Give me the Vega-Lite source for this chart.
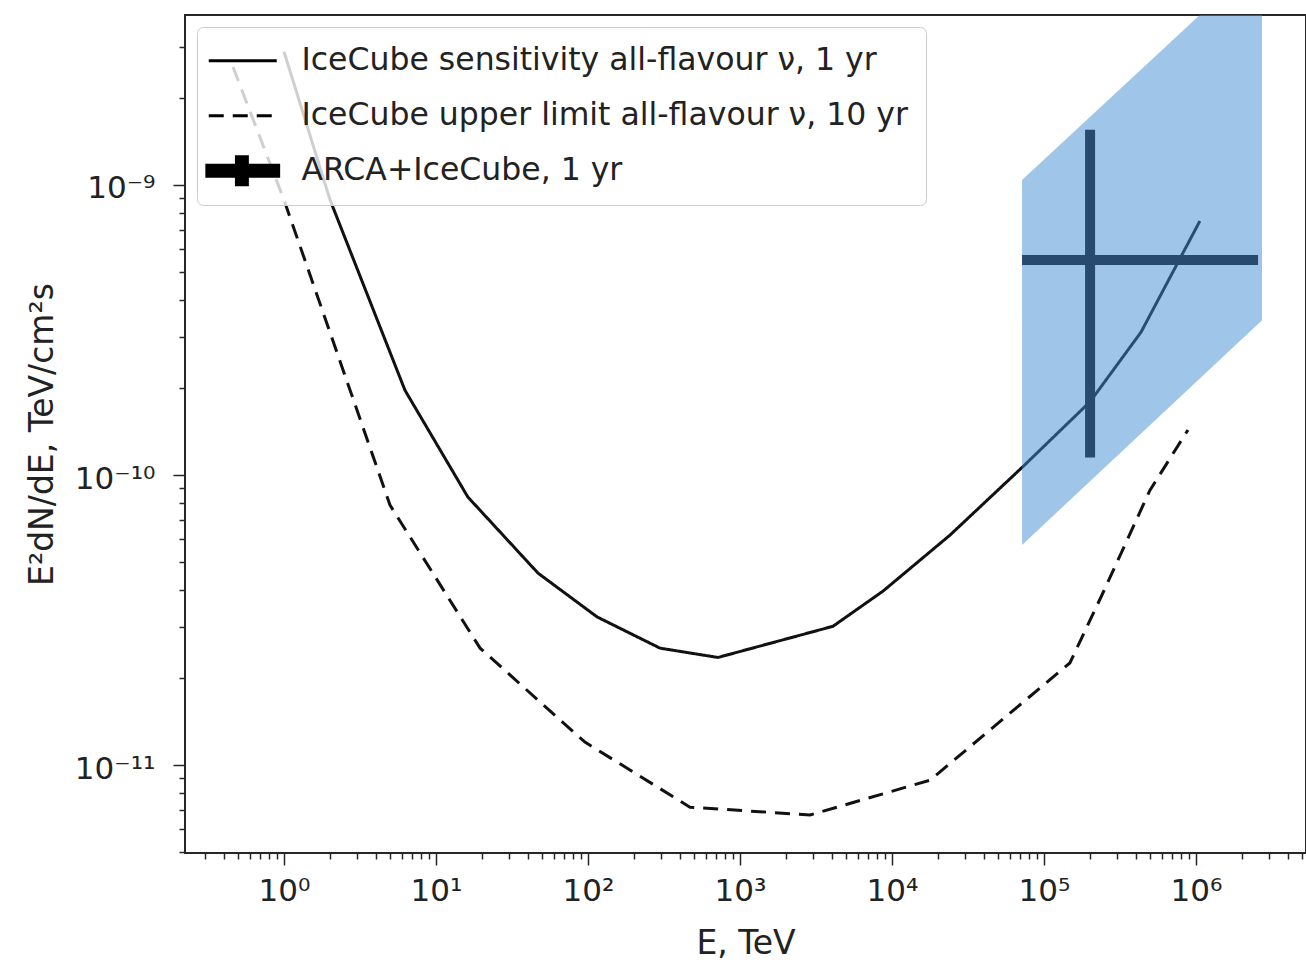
{
  "$schema": "https://vega.github.io/schema/vega-lite/v6.json",
  "autosize": {"type": "none"},
  "padding": {"left": 185, "top": 15, "right": 0, "bottom": 107},
  "width": 1121,
  "height": 838,
  "background": "white",
  "config": {
    "view": {"stroke": "#262626", "strokeWidth": 2},
    "font": "DejaVu Sans"
  },
  "datasets": {
    "curves": [
      {"series": "IceCube sensitivity all-flavour ν, 1 yr", "E": 1.0, "flux": 2.88e-9},
      {"series": "IceCube sensitivity all-flavour ν, 1 yr", "E": 2.01, "flux": 8.88e-10},
      {"series": "IceCube sensitivity all-flavour ν, 1 yr", "E": 6.25, "flux": 1.96e-10},
      {"series": "IceCube sensitivity all-flavour ν, 1 yr", "E": 16.2, "flux": 8.4e-11},
      {"series": "IceCube sensitivity all-flavour ν, 1 yr", "E": 46.9, "flux": 4.59e-11},
      {"series": "IceCube sensitivity all-flavour ν, 1 yr", "E": 115, "flux": 3.24e-11},
      {"series": "IceCube sensitivity all-flavour ν, 1 yr", "E": 298, "flux": 2.53e-11},
      {"series": "IceCube sensitivity all-flavour ν, 1 yr", "E": 716, "flux": 2.35e-11},
      {"series": "IceCube sensitivity all-flavour ν, 1 yr", "E": 4090, "flux": 3.01e-11},
      {"series": "IceCube sensitivity all-flavour ν, 1 yr", "E": 8730, "flux": 3.98e-11},
      {"series": "IceCube sensitivity all-flavour ν, 1 yr", "E": 24100, "flux": 6.21e-11},
      {"series": "IceCube sensitivity all-flavour ν, 1 yr", "E": 72800, "flux": 1.07e-10},
      {"series": "IceCube sensitivity all-flavour ν, 1 yr", "E": 201000, "flux": 1.79e-10},
      {"series": "IceCube sensitivity all-flavour ν, 1 yr", "E": 435000, "flux": 3.11e-10},
      {"series": "IceCube sensitivity all-flavour ν, 1 yr", "E": 1060000, "flux": 7.51e-10},
      {"series": "IceCube upper limit all-flavour ν, 10 yr", "E": 0.462, "flux": 2.55e-9},
      {"series": "IceCube upper limit all-flavour ν, 10 yr", "E": 1.0, "flux": 8.88e-10},
      {"series": "IceCube upper limit all-flavour ν, 10 yr", "E": 4.98, "flux": 7.88e-11},
      {"series": "IceCube upper limit all-flavour ν, 10 yr", "E": 19.5, "flux": 2.53e-11},
      {"series": "IceCube upper limit all-flavour ν, 10 yr", "E": 95.5, "flux": 1.2e-11},
      {"series": "IceCube upper limit all-flavour ν, 10 yr", "E": 469, "flux": 7.16e-12},
      {"series": "IceCube upper limit all-flavour ν, 10 yr", "E": 2890, "flux": 6.73e-12},
      {"series": "IceCube upper limit all-flavour ν, 10 yr", "E": 17800, "flux": 8.87e-12},
      {"series": "IceCube upper limit all-flavour ν, 10 yr", "E": 148000, "flux": 2.25e-11},
      {"series": "IceCube upper limit all-flavour ν, 10 yr", "E": 244000, "flux": 3.92e-11},
      {"series": "IceCube upper limit all-flavour ν, 10 yr", "E": 498000, "flux": 8.87e-11},
      {"series": "IceCube upper limit all-flavour ν, 10 yr", "E": 885000, "flux": 1.43e-10}
    ],
    "band": [
      {"E": 71700, "flux": 5.74e-11, "flux2": 1.04e-9},
      {"E": 2720000, "flux": 3.42e-10, "flux2": 6.1e-9}
    ],
    "hbar": [
      {"E": 71700, "E2": 2560000, "flux": 5.51e-10}
    ],
    "vbar": [
      {"E": 201000, "flux": 1.15e-10, "flux2": 1.55e-9}
    ]
  },
  "encoding": {
    "x": {
      "field": "E",
      "type": "quantitative",
      "scale": {"type": "log", "domain": [0.2232, 5293000], "nice": false},
      "axis": {
        "title": "E, TeV",
        "titleFont": "DejaVu Sans",
        "titleFontSize": 33,
        "titleFontWeight": "normal",
        "titleColor": "#222",
        "titleBaseline": "alphabetic",
        "titleY": 100,
        "grid": false,
        "domain": false,
        "values": [0.3,0.4,0.5,0.6,0.7,0.8,0.9,1,2,3,4,5,6,7,8,9,10,20,30,40,50,60,70,80,90,100,200,300,400,500,600,700,800,900,1000,2000,3000,4000,5000,6000,7000,8000,9000,10000,20000,30000,40000,50000,60000,70000,80000,90000,100000,200000,300000,400000,500000,600000,700000,800000,900000,1000000,2000000,3000000,4000000,5000000],
        "labelExpr": "datum.value == 1 ? '10⁰' : datum.value == 10 ? '10¹' : datum.value == 100 ? '10²' : datum.value == 1000 ? '10³' : datum.value == 10000 ? '10⁴' : datum.value == 100000 ? '10⁵' : datum.value == 1000000 ? '10⁶' : ''",
        "labelFont": "DejaVu Sans",
        "labelFontSize": 31,
        "labelColor": "#222",
        "labelBaseline": "alphabetic",
        "labelPadding": 35,
        "labelOverlap": false,
        "labelBound": false,
        "labelFlush": false,
        "tickColor": "#262626",
        "tickWidth": 1.5,
        "tickSize": {"condition": {"test": "abs(log(datum.value)/LN10 - round(log(datum.value)/LN10)) < 0.001", "value": 12}, "value": 6}
      }
    },
    "y": {
      "field": "flux",
      "type": "quantitative",
      "scale": {"type": "log", "domain": [4.977e-12, 3.855e-9], "nice": false},
      "axis": {
        "title": "E²dN/dE, TeV/cm²s",
        "titleFont": "DejaVu Sans",
        "titleFontSize": 33,
        "titleFontWeight": "normal",
        "titleColor": "#222",
        "titleAngle": -90,
        "titleBaseline": "middle",
        "titleX": -143,
        "titleY": 419,
        "grid": false,
        "domain": false,
        "values": [5e-12,6e-12,7e-12,8e-12,9e-12,1e-11,2e-11,3e-11,4e-11,5e-11,6e-11,7e-11,8e-11,9e-11,1e-10,2e-10,3e-10,4e-10,5e-10,6e-10,7e-10,8e-10,9e-10,1e-9,2e-9,3e-9],
        "labelExpr": "datum.value == 1e-9 ? '10⁻⁹' : datum.value == 1e-10 ? '10⁻¹⁰' : datum.value == 1e-11 ? '10⁻¹¹' : ''",
        "labelFont": "DejaVu Sans",
        "labelFontSize": 31,
        "labelColor": "#222",
        "labelBaseline": "middle",
        "labelOffset": 4,
        "labelPadding": 18,
        "labelOverlap": false,
        "labelBound": false,
        "labelFlush": false,
        "tickColor": "#262626",
        "tickWidth": 1.5,
        "tickSize": {"condition": {"test": "abs(log(datum.value)/LN10 - round(log(datum.value)/LN10)) < 0.001", "value": 12}, "value": 6}
      }
    }
  },
  "layer": [
    {
      "data": {"name": "curves"},
      "mark": {"type": "line", "color": "#111111", "strokeWidth": 3, "clip": true, "strokeCap": "butt"},
      "encoding": {
        "strokeDash": {
          "field": "series",
          "type": "nominal",
          "scale": {
            "domain": ["IceCube sensitivity all-flavour ν, 1 yr", "IceCube upper limit all-flavour ν, 10 yr", "ARCA+IceCube, 1 yr"],
            "range": [[1, 0], [15, 9], [1, 0]]
          },
          "legend": {
            "title": null,
            "orient": "top-left",
            "offset": 12,
            "padding": 18,
            "labelFont": "DejaVu Sans",
            "labelFontSize": 31.5,
            "labelColor": "#222",
            "labelLimit": 0,
            "labelOffset": 43,
            "symbolOffset": 12,
            "symbolType": "M-2,0H2",
            "symbolSize": 1156,
            "symbolStrokeColor": "#000000",
            "symbolFillColor": "transparent",
            "symbolStrokeWidth": 3,
            "rowPadding": 22,
            "strokeColor": "#cccccc",
            "fillColor": "rgba(255,255,255,0.8)",
            "cornerRadius": 6,
            "encode": {
              "symbols": {
                "update": {
                  "shape": {"signal": "datum.value === 'ARCA+IceCube, 1 yr' ? 'M-2.2,-0.41H-0.46V-0.91H0.36V-0.41H2.2V0.41H0.36V0.91H-0.46V0.41H-2.2Z' : 'M-2,0H2'"},
                  "strokeWidth": {"signal": "datum.value === 'ARCA+IceCube, 1 yr' ? 0 : 3"},
                  "fill": {"signal": "datum.value === 'ARCA+IceCube, 1 yr' ? '#000000' : 'transparent'"},
                  "stroke": {"value": "#000000"}
                }
              }
            }
          }
        }
      }
    },
    {
      "data": {"name": "band"},
      "mark": {"type": "area", "color": "#3f8bd1", "fillOpacity": 0.5, "clip": true},
      "encoding": {
        "y2": {"field": "flux2"}
      }
    },
    {
      "data": {"name": "hbar"},
      "mark": {"type": "rule", "color": "#294a6f", "strokeWidth": 10, "clip": true, "strokeCap": "butt"},
      "encoding": {
        "x2": {"field": "E2"}
      }
    },
    {
      "data": {"name": "vbar"},
      "mark": {"type": "rule", "color": "#294a6f", "strokeWidth": 10, "clip": true, "strokeCap": "butt"},
      "encoding": {
        "y2": {"field": "flux2"}
      }
    }
  ]
}
